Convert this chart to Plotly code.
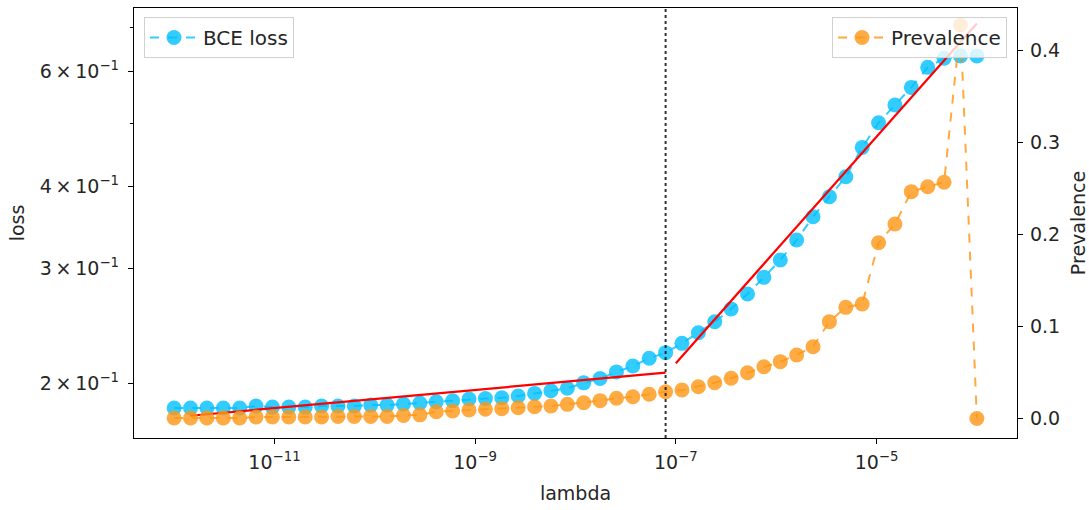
import plotly.graph_objects as go

# lambda grid (50 log-spaced values 1e-12 .. 1e-4)
lambdas = [1.000e-12, 1.456e-12, 2.121e-12, 3.089e-12, 4.498e-12, 6.551e-12, 9.541e-12,
           1.389e-11, 2.024e-11, 2.947e-11, 4.292e-11, 6.251e-11, 9.103e-11,
           1.326e-10, 1.931e-10, 2.812e-10, 4.095e-10, 5.964e-10, 8.685e-10,
           1.265e-9, 1.842e-9, 2.683e-9, 3.907e-9, 5.690e-9, 8.286e-9,
           1.207e-8, 1.758e-8, 2.560e-8, 3.728e-8, 5.429e-8, 7.906e-8,
           1.151e-7, 1.677e-7, 2.442e-7, 3.556e-7, 5.179e-7, 7.543e-7,
           1.099e-6, 1.600e-6, 2.330e-6, 3.393e-6, 4.942e-6, 7.197e-6,
           1.048e-5, 1.526e-5, 2.223e-5, 3.237e-5, 4.715e-5, 6.866e-5, 1.000e-4]

bce_loss = [0.1831, 0.1831, 0.1831, 0.1831, 0.1831, 0.1844, 0.1837, 0.1837, 0.1837, 0.1844,
            0.1844, 0.1844, 0.1850, 0.1850, 0.1857, 0.1864, 0.1872, 0.1879, 0.1890, 0.1893,
            0.1899, 0.1910, 0.1928, 0.1946, 0.1963, 0.2001, 0.2032, 0.2080, 0.2123, 0.2182,
            0.2226, 0.2300, 0.2388, 0.2482, 0.2596, 0.2737, 0.2903, 0.3086, 0.3311, 0.3594,
            0.3858, 0.4139, 0.4590, 0.5006, 0.5329, 0.5672, 0.6087, 0.6284, 0.6335, 0.6335]

prevalence = [0.0005, 0.0005, 0.0005, 0.0005, 0.0005, 0.0016, 0.0016, 0.0016, 0.0016, 0.0016,
              0.0022, 0.0022, 0.0022, 0.0022, 0.0033, 0.0040, 0.0074, 0.0082, 0.0092, 0.0100,
              0.0107, 0.0117, 0.0128, 0.0136, 0.0154, 0.0172, 0.0194, 0.0220, 0.0237, 0.0263,
              0.0291, 0.0310, 0.0346, 0.0389, 0.0437, 0.0498, 0.0563, 0.0618, 0.0691, 0.0781,
              0.1053, 0.1209, 0.1245, 0.1912, 0.2115, 0.2467, 0.2521, 0.2569, 0.4280, 0.0000]

# power-law fit segments
fit1_x = [lambdas[1], lambdas[30]]
fit1_y = [0.1782, 0.2074]
fit2_x = [1.0e-7, 1.0e-4]
fit2_y = [0.2144, 0.7107]
split_lambda = lambdas[30]

x_tickvals = [1e-11, 1e-9, 1e-7, 1e-5]
x_ticktext = ["10<sup>−11</sup>", "10<sup>−9</sup>", "10<sup>−7</sup>", "10<sup>−5</sup>"]
y_tickvals = [0.2, 0.3, 0.4, 0.6]
y_ticktext = ["2\u2009×\u200910<sup>−1</sup>", "3\u2009×\u200910<sup>−1</sup>",
              "4\u2009×\u200910<sup>−1</sup>", "6\u2009×\u200910<sup>−1</sup>"]
y_minor = [0.5, 0.7]
y2_tickvals = [0.0, 0.1, 0.2, 0.3, 0.4]
y2_ticktext = ["0.0", "0.1", "0.2", "0.3", "0.4"]

FONT = "DejaVu Sans"
TXT = "#262626"
TICK = 19
LAB = 19
LEG = 20

fig = go.Figure()
fig.add_trace(go.Scatter(
    x=lambdas, y=bce_loss, mode="lines+markers", name="BCE loss",
    line=dict(color="rgba(0,191,255,0.8)", width=2, dash="dash"),
    marker=dict(color="rgba(0,191,255,0.8)", size=15),
    legend="legend", yaxis="y"))
fig.add_trace(go.Scatter(
    x=fit1_x, y=fit1_y, mode="lines", showlegend=False,
    line=dict(color="red", width=2.2), yaxis="y"))
fig.add_trace(go.Scatter(
    x=fit2_x, y=fit2_y, mode="lines", showlegend=False,
    line=dict(color="red", width=2.2), yaxis="y"))
fig.add_trace(go.Scatter(
    x=[split_lambda, split_lambda], y=[0, 1], mode="lines", showlegend=False,
    line=dict(color="rgba(0,0,0,0.8)", width=2, dash="dot"), yaxis="y3"))
fig.add_trace(go.Scatter(
    x=lambdas, y=prevalence, mode="lines+markers", name="Prevalence",
    line=dict(color="rgba(255,140,0,0.75)", width=2, dash="dash"),
    marker=dict(color="rgba(255,150,20,0.8)", size=15),
    legend="legend2", yaxis="y2"))

fig.update_layout(
    width=1089, height=510,
    margin=dict(l=134, r=72, t=8, b=72, autoexpand=False),
    plot_bgcolor="white", paper_bgcolor="white",
    font=dict(family=FONT, size=TICK, color=TXT),
    xaxis=dict(
        type="log", range=[-12.4, -3.6], automargin=False,
        tickmode="array", tickvals=x_tickvals, ticktext=x_ticktext,
        ticks="outside", ticklen=5, tickwidth=1, tickcolor="black",
        ticklabelstandoff=2,
        showline=True, linecolor="black", linewidth=1.3, mirror=True,
        showgrid=False, zeroline=False,
        title=dict(text="lambda", standoff=14, font=dict(size=LAB)),
        tickfont=dict(size=TICK)),
    yaxis=dict(
        type="log", range=[-0.7832, -0.1247], automargin=False,
        tickmode="array", tickvals=y_tickvals, ticktext=y_ticktext,
        ticks="outside", ticklen=5, tickwidth=1, tickcolor="black",
        ticklabelstandoff=5,
        minor=dict(tickmode="array", tickvals=y_minor, ticks="outside", ticklen=3, tickcolor="black"),
        showline=True, linecolor="black", linewidth=1.3,
        showgrid=False, zeroline=False,
        title=dict(text="loss", standoff=10, font=dict(size=LAB)),
        tickfont=dict(size=TICK)),
    yaxis2=dict(
        overlaying="y", side="right", range=[-0.0212, 0.4464], automargin=False,
        tickmode="array", tickvals=y2_tickvals, ticktext=y2_ticktext,
        ticks="outside", ticklen=5, tickwidth=1, tickcolor="black",
        ticklabelstandoff=3,
        showline=True, linecolor="black", linewidth=1.3,
        showgrid=False, zeroline=False,
        title=dict(text="Prevalence", standoff=12, font=dict(size=LAB)),
        tickfont=dict(size=TICK)),
    yaxis3=dict(overlaying="y", range=[0, 1], visible=False),
    legend=dict(x=0.0113, y=0.979, xanchor="left", yanchor="top", itemwidth=48,
                bgcolor="rgba(255,255,255,0.8)", bordercolor="#d0d0d0", borderwidth=1,
                font=dict(size=LEG, color=TXT)),
    legend2=dict(x=0.9887, y=0.979, xanchor="right", yanchor="top", itemwidth=48,
                 bgcolor="rgba(255,255,255,0.8)", bordercolor="#d0d0d0", borderwidth=1,
                 font=dict(size=LEG, color=TXT)),
)

fig.write_html("out.html")
